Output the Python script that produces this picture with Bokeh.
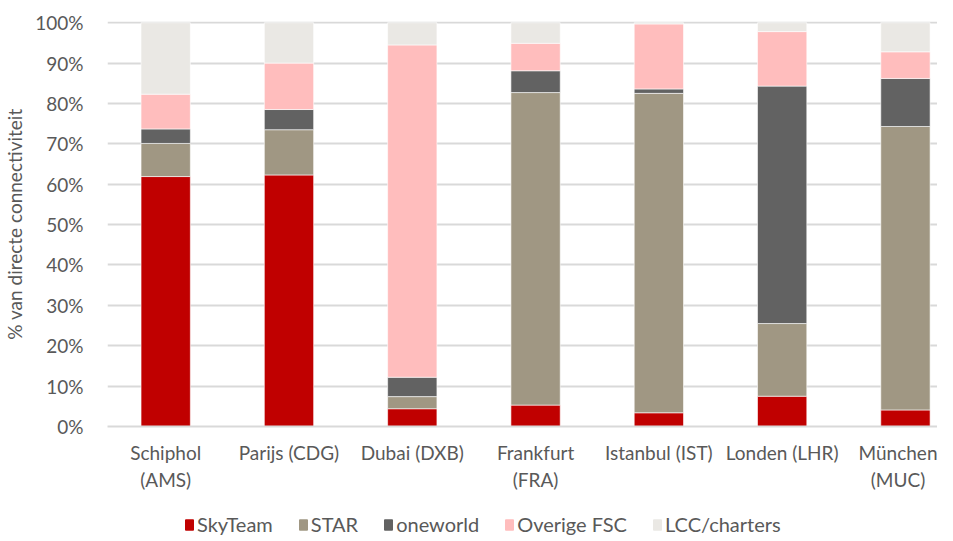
from bokeh.plotting import figure
from bokeh.layouts import column
from bokeh.models import (ColumnDataSource, Range1d, FixedTicker, PrintfTickFormatter,
                          Legend, LegendItem)
from bokeh.embed import file_html
from bokeh.resources import INLINE

categories = ["Schiphol\n(AMS)", "Parijs (CDG)", "Dubai (DXB)", "Frankfurt\n(FRA)",
              "Istanbul (IST)", "Londen (LHR)", "München\n(MUC)"]
series = ["SkyTeam", "STAR", "oneworld", "Overige FSC", "LCC/charters"]
skyteam = [61.9, 62.3, 4.4, 5.3, 3.4, 7.5, 4.1]
star = [8.2, 11.2, 3.0, 77.4, 79.1, 18.0, 70.2]
oneworld = [3.6, 5.0, 4.8, 5.4, 1.1, 58.8, 11.9]
overige = [8.6, 11.5, 82.3, 6.8, 16.1, 13.5, 6.6]
lcc = [17.7, 10.0, 5.5, 5.1, 0.3, 2.2, 7.2]
colors = ["#C00000", "#A09783", "#626262", "#FFBDBD", "#EAE8E4"]
y_ticks = list(range(0, 101, 10))

FONT = "Lato"
TXT = "#595959"

xs = list(range(len(categories)))
src = ColumnDataSource(dict(x=xs, SkyTeam=skyteam, STAR=star, oneworld=oneworld,
                            **{"Overige FSC": overige, "LCC/charters": lcc}))

p = figure(width=937, height=494, output_backend="svg", toolbar_location=None,
           x_range=Range1d(-0.472, 6.26), y_range=Range1d(0, 100.3),
           min_border_left=107, min_border_right=0, min_border_top=21,
           min_border_bottom=67)
p.outline_line_color = None

rs = p.vbar_stack(series, x="x", width=0.4, source=src, color=colors,
                  line_color="white", line_width=0.6)

# axes
p.xaxis.ticker = FixedTicker(ticks=xs)
p.xaxis.major_label_overrides = {i: c for i, c in enumerate(categories)}
p.xaxis.major_tick_line_color = None
p.xaxis.minor_tick_line_color = None
p.xaxis.axis_line_color = "#D9D9D9"
p.xaxis.axis_line_width = 2
p.xaxis.major_label_text_font = FONT
p.xaxis.major_label_text_font_size = "19px"
p.xaxis.major_label_text_color = TXT
p.xaxis.major_label_standoff = 8

p.yaxis.ticker = FixedTicker(ticks=y_ticks)
p.yaxis.formatter = PrintfTickFormatter(format="%d%%")
p.yaxis.axis_line_color = None
p.yaxis.major_tick_line_color = None
p.yaxis.minor_tick_line_color = None
p.yaxis.major_label_text_font = FONT
p.yaxis.major_label_text_font_size = "19px"
p.yaxis.major_label_text_color = TXT
p.yaxis.major_label_standoff = 18
p.yaxis.axis_label = "% van directe connectiviteit"
p.yaxis.axis_label_text_font = FONT
p.yaxis.axis_label_text_font_style = "normal"
p.yaxis.axis_label_text_font_size = "19px"
p.yaxis.axis_label_text_color = TXT
p.yaxis.axis_label_standoff = 6

p.xgrid.grid_line_color = None
p.ygrid.ticker = FixedTicker(ticks=y_ticks)
p.ygrid.grid_line_color = "#D9D9D9"
p.ygrid.grid_line_width = 2

# legend strip below the chart (proxy renderers, kept out of range)
lg = figure(width=937, height=42, output_backend="svg", toolbar_location=None,
            x_range=Range1d(100, 101), y_range=Range1d(100, 101),
            x_axis_type=None, y_axis_type=None, min_border=0)
lg.outline_line_color = None
lg.grid.grid_line_color = None
proxies = lg.vbar_stack(series, x="x", width=0.4, source=src, color=colors)
legend = Legend(items=[LegendItem(label=s, renderers=[r]) for s, r in zip(series, proxies)],
                orientation="horizontal", location=(77, 0),
                label_text_font=FONT, label_text_font_size="20px",
                label_text_color=TXT, glyph_width=10, glyph_height=13,
                label_standoff=3, spacing=25, padding=0, margin=0,
                border_line_color=None, background_fill_alpha=0)
lg.add_layout(legend, "center")

open("out.html", "w").write(file_html(column(p, lg, spacing=0), INLINE))
